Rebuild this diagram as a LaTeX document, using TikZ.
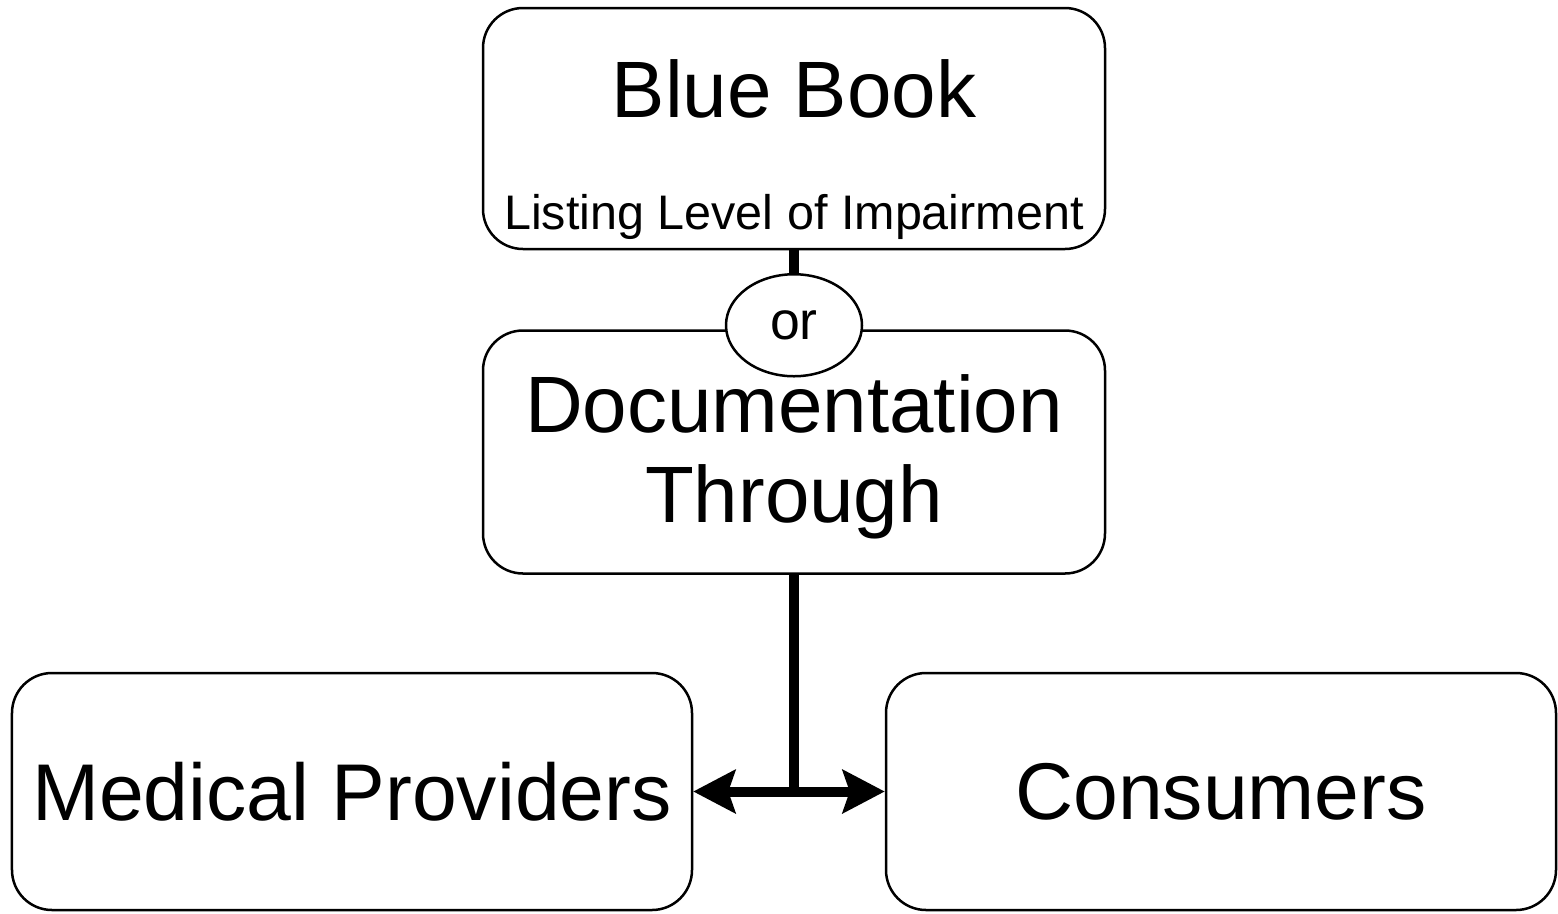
\documentclass[tikz,border=0pt]{standalone}
\usepackage{fontspec}
\setmainfont{Liberation Sans}
\usetikzlibrary{arrows.meta, positioning, shapes.geometric}
\tikzset{
  box/.style={draw, rounded corners=0.8cm, line width=0.05cm, minimum width=12.44cm, minimum height=4.82cm, font=\fontsize{45.8}{52}\selectfont},
  bigtext/.style={anchor=base, font=\fontsize{45.5}{52}\selectfont},
  smalltext/.style={anchor=base, font=\fontsize{27.6}{34}\selectfont},
  orbubble/.style={ellipse, draw, fill=white, line width=0.05cm, minimum width=2.72cm, minimum height=2.04cm, font=\fontsize{30.5}{36}\selectfont},
  link/.style={line width=0.2cm},
  twoway/.style={line width=0.2cm, -{Stealth[length=0.84cm, width=0.86cm, inset=0.14cm]}}
}

\begin{document}
\begin{tikzpicture}[every node/.style={inner sep=0pt}]
\useasboundingbox (0,0) rectangle (31.16,-18.26);
\node[box] (blue) at (15.88,-2.57) {};
\node[bigtext] (bluetitle) at ([yshift=0.23cm]blue.center) {Blue Book};
\node[smalltext] (bluesub) at ([yshift=-2.01cm]blue.center) {Listing Level of Impairment};
\node[box, below=1.58cm of blue, minimum height=4.86cm] (doc) {};
\node[bigtext] (doctitle) at ([yshift=0.39cm]doc.center) {Documentation};
\node[bigtext] (docsub) at ([yshift=-1.41cm]doc.center) {Through};
\node[orbubble] (or) at ([yshift=0.08cm]doc.north) {or};
\node[box, minimum width=13.6cm, minimum height=4.74cm] (med) at (7.04,-15.83) {Medical Providers};
\node[box, minimum width=13.4cm, minimum height=4.74cm] (cons) at (24.42,-15.83) {Consumers};
\coordinate (split) at (doc.south |- med.east);
\draw[link] (blue.south) -- (or.north);
\draw[link] (doc.south) -- (split);
\draw[twoway] (split) -- (med.east);
\draw[twoway] (split) -- (cons.west);
\end{tikzpicture}
\end{document}
